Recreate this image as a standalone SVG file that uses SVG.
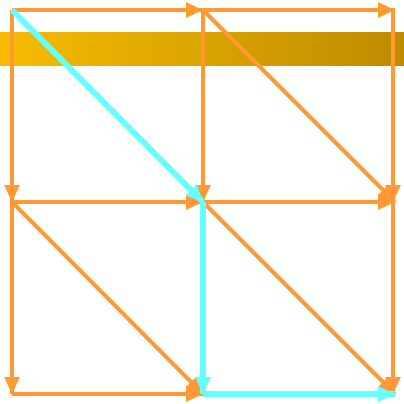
<svg xmlns="http://www.w3.org/2000/svg" width="404" height="404" viewBox="0 0 404 404">
<defs>
<linearGradient id="band" x1="0" y1="0" x2="1" y2="0">
<stop offset="0" stop-color="#F7BC00"/>
<stop offset="1" stop-color="#BF8B00"/>
</linearGradient>
<marker id="ao" markerUnits="userSpaceOnUse" markerWidth="18" markerHeight="16" refX="17" refY="8" orient="auto">
<path d="M0,0 L17,8 L0,16 z" fill="#FF9933"/>
</marker>
<marker id="ac" markerUnits="userSpaceOnUse" markerWidth="18" markerHeight="16" refX="17" refY="8" orient="auto">
<path d="M0,0 L17,8 L0,16 z" fill="#66FFFF"/>
</marker>
<style>
.o{stroke:#FF9933;stroke-width:4;fill:none;marker-end:url(#ao)}
.c{stroke:#66FFFF;stroke-width:6;fill:none;marker-end:url(#ac)}
</style>
</defs>
<rect x="0" y="32" width="404" height="34" fill="url(#band)"/>
<g id="connectors">
<line class="o" x1="12" y1="10" x2="203" y2="10"/>
<line class="o" x1="203" y1="10" x2="395" y2="10"/>
<line class="o" x1="12" y1="10" x2="12" y2="202"/>
<line class="o" x1="203" y1="10" x2="203" y2="202"/>
<line class="o" x1="393" y1="10" x2="393" y2="202"/>
<line class="o" x1="12" y1="202" x2="203" y2="202"/>
<line class="o" x1="203" y1="202" x2="395" y2="202"/>
<line class="o" x1="12" y1="202" x2="12" y2="394"/>
<line class="o" x1="393" y1="202" x2="393" y2="394"/>
<line class="o" x1="12" y1="394" x2="203" y2="394"/>
<line class="o" x1="203" y1="10" x2="395" y2="202"/>
<line class="o" x1="12" y1="202" x2="203" y2="394"/>
<line class="o" x1="203" y1="202" x2="395" y2="394"/>
<line class="c" x1="12" y1="10" x2="203" y2="202"/>
<line class="c" x1="203" y1="202" x2="203" y2="394"/>
<line class="c" x1="203" y1="394" x2="395" y2="394"/>
</g>
</svg>
